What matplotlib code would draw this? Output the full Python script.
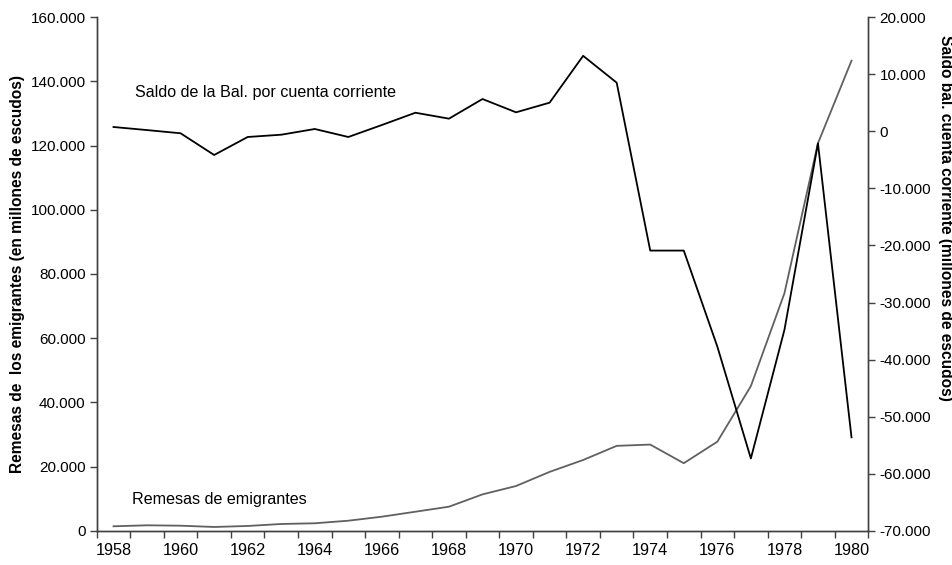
import numpy as np
import matplotlib.pyplot as plt
from matplotlib.ticker import FuncFormatter, FixedLocator

plt.rcParams['font.family'] = ['Liberation Sans', 'DejaVu Sans']

# === datos ===
years = list(range(1958, 1981))
# remesas de emigrantes (millones de escudos), eje izquierdo
remesas = [1460, 1770, 1650, 1250, 1560, 2180, 2400, 3200, 4450, 6000, 7560,
           11400, 14000, 18400, 22100, 26500, 26900, 21100, 27800, 45100,
           74000, 120700, 146400]
# saldo bal. cuenta corriente (millones de escudos), eje derecho
saldo = [740, 200, -360, -4160, -1010, -610, 390, -1010, 1090, 3240, 2200,
         5640, 3310, 5000, 13200, 8500, -20900, -20900, -37700, -57300,
         -34800, -2120, -53600]

def miles(v, pos):
    s = '{:,.0f}'.format(v).replace(',', '.')
    return s

x = np.arange(len(years))

fig = plt.figure(figsize=(9.53, 5.65), dpi=100)
ax = fig.add_axes([0.1015, 0.0602, 0.8096, 0.9097])
ax2 = ax.twinx()

ax.plot(x, remesas, color='#606060', lw=1.3)
ax2.plot(x, saldo, color='black', lw=1.3)

ax.set_xlim(-0.5, len(years) - 0.5)
ax.set_ylim(0, 160000)
ax2.set_ylim(-70000, 20000)
ax.set_yticks(np.arange(0, 160001, 20000))
ax2.set_yticks(np.arange(-70000, 20001, 10000))
ax.yaxis.set_major_formatter(FuncFormatter(miles))
ax2.yaxis.set_major_formatter(FuncFormatter(miles))

# etiquetas en el centro de cada categoria, marcas entre categorias
ax.set_xticks(x[::2])
ax.set_xticklabels([str(y) for y in years[::2]], fontsize=11.7)
ax.xaxis.set_minor_locator(FixedLocator(np.arange(-0.5, len(years), 1.0)))
ax.tick_params(axis='x', which='major', length=0, pad=9)
ax.tick_params(axis='x', which='minor', length=5, width=1, color='#404040')
ax.tick_params(axis='y', length=5, width=1, color='#404040', labelsize=11, pad=3)
ax2.tick_params(axis='y', length=5, width=1, color='#404040', labelsize=11, pad=3)

for a in (ax, ax2):
    a.spines['top'].set_visible(False)
    for s in ('left', 'right', 'bottom'):
        a.spines[s].set_color('#404040')
        a.spines[s].set_linewidth(1)

ax.set_ylabel('Remesas de  los emigrantes (en millones de escudos)',
              fontsize=11.2, fontweight='bold', labelpad=4)
fig.text(0.992, 0.615, 'Saldo bal. cuenta corriente (millones de escudos)',
         rotation=-90, fontsize=11.2, fontweight='bold', ha='center', va='center')

ax.text(0.049, 0.853, 'Saldo de la Bal. por cuenta corriente', transform=ax.transAxes,
        fontsize=11.6, va='center')
ax.text(0.046, 0.0605, 'Remesas de emigrantes', transform=ax.transAxes,
        fontsize=11.6, va='center')

fig.savefig('out.png', dpi=100)
